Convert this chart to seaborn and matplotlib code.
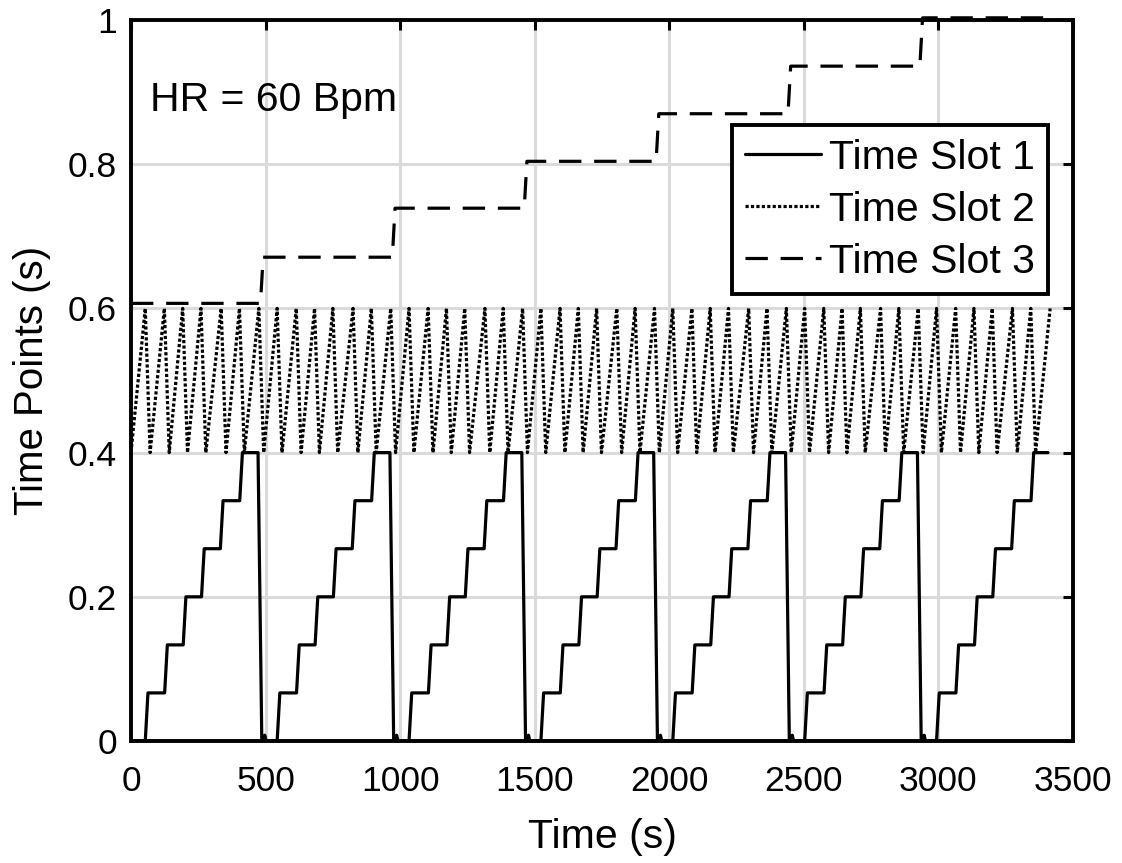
import matplotlib
matplotlib.use("Agg")
import matplotlib.pyplot as plt
import seaborn as sns
import pandas as pd

# ---- data ----
cycle_starts = [0, 490, 980, 1470, 1960, 2450, 2940]
slot1_levels = [0.0, 0.0667, 0.1333, 0.2, 0.2667, 0.3333, 0.4]
slot1_rise_offsets = [58, 130, 199, 267, 337, 409]
slot1_top_end_offset = 472
slot1_zero_offset = 486
slot1_end = 3407

slot2_low = 0.4
slot2_high = 0.6
slot2_top_offsets = [53, 124, 192, 260, 335, 403, 475]
slot2_fall = 18
slot2_end = 3415

slot3_levels = [0.607, 0.671, 0.739, 0.804, 0.870, 0.936, 1.003]
slot3_switch_offset = 486
slot3_end = 3430

x_ticks = [0, 500, 1000, 1500, 2000, 2500, 3000, 3500]
y_ticks = [0, 0.2, 0.4, 0.6, 0.8, 1.0]
y_tick_labels = ["0", "0.2", "0.4", "0.6", "0.8", "1"]
series_names = ["Time Slot 1", "Time Slot 2", "Time Slot 3"]

# ---- build polylines ----
s1x, s1y = [0], [0.0]
for i, c in enumerate(cycle_starts):
    if i > 0:
        s1x += [c + 2, c + 7, c + 12]
        s1y += [0.0, 0.008, 0.0]
    for k, e in enumerate(slot1_rise_offsets):
        s1x += [c + e - 5, c + e + 5]
        s1y += [slot1_levels[k], slot1_levels[k + 1]]
    if i < len(cycle_starts) - 1:
        s1x += [c + slot1_top_end_offset, c + slot1_zero_offset]
        s1y += [0.4, 0.0]
    else:
        s1x += [slot1_end]
        s1y += [0.4]

s2x, s2y = [0], [slot2_low]
for i, c in enumerate(cycle_starts):
    for k, t in enumerate(slot2_top_offsets):
        s2x.append(c + t)
        s2y.append(slot2_high)
        if c + t + slot2_fall < slot2_end:
            s2x.append(c + t + slot2_fall)
            s2y.append(slot2_low)

s3x, s3y = [0], [slot3_levels[0]]
for k, c in enumerate(cycle_starts[:-1]):
    s3x += [c + slot3_switch_offset - 5, c + slot3_switch_offset + 5]
    s3y += [slot3_levels[k], slot3_levels[k + 1]]
s3x.append(slot3_end)
s3y.append(slot3_levels[-1])

df1 = pd.DataFrame({"t": s1x, "v": s1y})
df2 = pd.DataFrame({"t": s2x, "v": s2y})
df3 = pd.DataFrame({"t": s3x, "v": s3y})

# ---- style ----
sns.set_style("white")
plt.rcParams["font.family"] = ["Liberation Sans", "DejaVu Sans"]
plt.rcParams["text.color"] = "black"
plt.rcParams["axes.labelcolor"] = "black"

fig = plt.figure(figsize=(11.22, 8.63), dpi=100)
ax = fig.add_axes([131 / 1122, 1 - 741 / 863, 942 / 1122, 721 / 863])

sns.lineplot(data=df1, x="t", y="v", ax=ax, color="black", lw=2.3,
             estimator=None, sort=False, label=series_names[0])
sns.lineplot(data=df2, x="t", y="v", ax=ax, color="black", lw=2.3,
             estimator=None, sort=False, label=series_names[1])
sns.lineplot(data=df3, x="t", y="v", ax=ax, color="black", lw=2.3,
             estimator=None, sort=False, label=series_names[2])
ax.lines[1].set_linestyle((0, (1.0, 0.7)))
ax.lines[2].set_linestyle((0, (7.0, 4.0)))
ax.lines[2].set_clip_on(False)
ax.lines[2].set_zorder(5)

ax.set_xlim(0, 3500)
ax.set_ylim(0, 1)
ax.set_xticks(x_ticks)
ax.set_xticklabels([str(v) for v in x_ticks])
ax.set_yticks(y_ticks)
ax.set_yticklabels(y_tick_labels)
ax.grid(True, color="#dadada", lw=2.2)
ax.set_axisbelow(True)
for sp in ax.spines.values():
    sp.set_visible(True)
    sp.set_color("black")
    sp.set_linewidth(2.8)
ax.tick_params(direction="in", length=7, width=2.2, top=True, right=True,
               labelsize=25.5, colors="black")
ax.tick_params(axis="x", pad=17)
ax.tick_params(axis="y", pad=10)
ax.set_xlabel("Time (s)", fontsize=29.5, labelpad=15, color="black")
ax.set_ylabel("Time Points (s)", fontsize=29, labelpad=12, color="black")

ax.text(70, 0.889, "HR = 60 Bpm", fontsize=29.5, va="center", ha="left",
        color="black")

leg = ax.legend(loc="upper right", bbox_to_anchor=(0.9735, 0.854), fontsize=29.5,
                frameon=True, fancybox=False, edgecolor="black", framealpha=1,
                handlelength=1.85, handletextpad=0.18, borderpad=0.33,
                labelspacing=0.34, borderaxespad=0)
leg.get_frame().set_linewidth(2.8)
for txt in leg.get_texts():
    txt.set_color("black")

fig.savefig("out.png", dpi=100)
